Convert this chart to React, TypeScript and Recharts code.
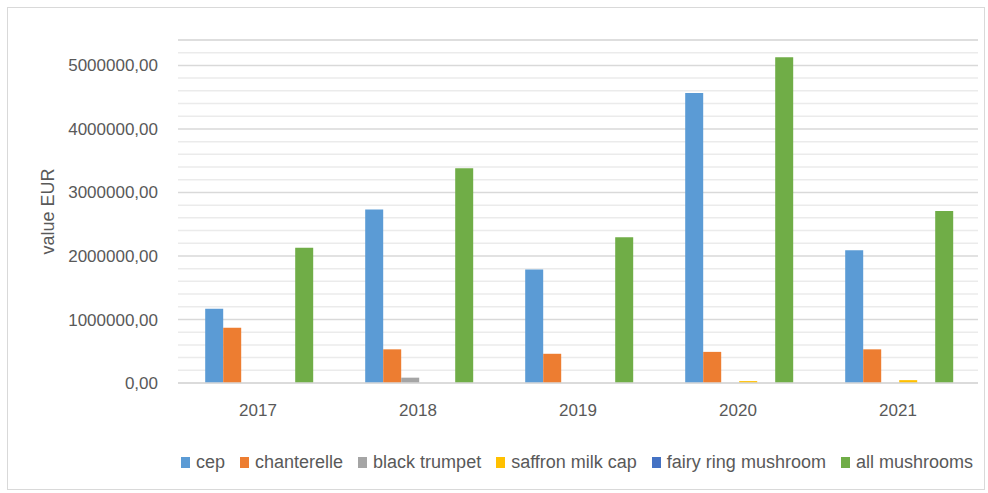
import React from "react";
import { Bar, BarChart, CartesianGrid, Legend, XAxis, YAxis } from "recharts";

const years = ["2017", "2018", "2019", "2020", "2021"];
const cep = [1170000, 2730000, 1785000, 4565000, 2090000];
const chanterelle = [870000, 530000, 460000, 490000, 530000];
const blackTrumpet = [0, 84000, 0, 0, 0];
const saffronMilkCap = [0, 0, 0, 30000, 45000];
const fairyRing = [0, 0, 0, 0, 0];
const allMushrooms = [2130000, 3380000, 2295000, 5130000, 2706000];

const majorTicks = [0, 1000000, 2000000, 3000000, 4000000, 5000000];
const minorTicks = [
  200000, 400000, 600000, 800000, 1200000, 1400000, 1600000, 1800000,
  2200000, 2400000, 2600000, 2800000, 3200000, 3400000, 3600000, 3800000,
  4200000, 4400000, 4600000, 4800000, 5200000, 5400000,
];

const series = [
  { key: "cep", name: "cep", color: "#5B9BD5" },
  { key: "chanterelle", name: "chanterelle", color: "#ED7D31" },
  { key: "blackTrumpet", name: "black trumpet", color: "#A5A5A5" },
  { key: "saffron", name: "saffron milk cap", color: "#FFC000" },
  { key: "fairy", name: "fairy ring mushroom", color: "#4472C4" },
  { key: "all", name: "all mushrooms", color: "#70AD47" },
];

const data = years.map((year, i) => ({
  year,
  cep: cep[i],
  chanterelle: chanterelle[i],
  blackTrumpet: blackTrumpet[i],
  saffron: saffronMilkCap[i],
  fairy: fairyRing[i],
  all: allMushrooms[i],
}));

const font = "'Liberation Sans', Arial, sans-serif";
const textColor = "#595959";

const fmt = (v: number) => v.toFixed(2).replace(".", ",");

// map minor tick values through the y axis scale
const minorLines = ({ yAxis }: any) => {
  const s = yAxis && yAxis.scale;
  if (!s) return [];
  if (typeof s === "function") return minorTicks.map((v) => s(v));
  if (typeof s.map === "function") return minorTicks.map((v) => s.map(v));
  if (typeof s.scale === "function") return minorTicks.map((v) => s.scale(v));
  return [];
};

function LegendBox() {
  return (
    <div style={{ display: "flex", alignItems: "center", fontFamily: font, fontSize: 18, color: textColor, height: 24, whiteSpace: "nowrap" }}>
      {series.map((s) => (
        <div key={s.key} style={{ display: "flex", alignItems: "center", marginRight: 15, flexShrink: 0 }}>
          <span style={{ display: "inline-block", width: 9, height: 11, background: s.color, marginRight: 6 }} />
          <span>{s.name}</span>
        </div>
      ))}
    </div>
  );
}

export default function App() {
  return (
    <div style={{ position: "relative", width: 988, height: 493, background: "#fff" }}>
      <style>{`body{margin:0}`}</style>
      <div style={{ position: "absolute", left: 7, top: 7, width: 976, height: 481, border: "1px solid #d9d9d9" }} />
      <BarChart
        width={988}
        height={493}
        data={data}
        margin={{ top: 40, right: 10, left: 0, bottom: 46 }}
        barCategoryGap="17%"
        barGap={0}
      >
        <CartesianGrid vertical={false} stroke="#ebebeb" strokeWidth={1.5} horizontalCoordinatesGenerator={minorLines} />
        <CartesianGrid vertical={false} stroke="#d9d9d9" strokeWidth={1.5} />
        <XAxis
          dataKey="year"
          height={40}
          tickLine={false}
          tickSize={0}
          tickMargin={21}
          axisLine={{ stroke: "#d9d9d9", strokeWidth: 1.5 }}
          tick={{ fill: textColor, fontSize: 17, fontFamily: font }}
        />
        <YAxis
          width={178}
          domain={[0, 5400000]}
          ticks={majorTicks}
          interval={0}
          tickFormatter={fmt}
          axisLine={false}
          tickLine={false}
          tickSize={0}
          tickMargin={20}
          tick={{ fill: textColor, fontSize: 17, fontFamily: font }}
          label={{
            value: "value EUR",
            angle: -90,
            position: "insideLeft",
            dx: 43,
            style: { fill: textColor, fontSize: 18, fontFamily: font, textAnchor: "middle" },
          }}
        />
        <Legend
          verticalAlign="bottom"
          content={() => <LegendBox />}
          wrapperStyle={{ left: 181, top: 450, width: 807 }}
        />
        {series.map((s) => (
          <Bar key={s.key} dataKey={s.key} name={s.name} fill={s.color} isAnimationActive={false} />
        ))}
      </BarChart>
    </div>
  );
}
